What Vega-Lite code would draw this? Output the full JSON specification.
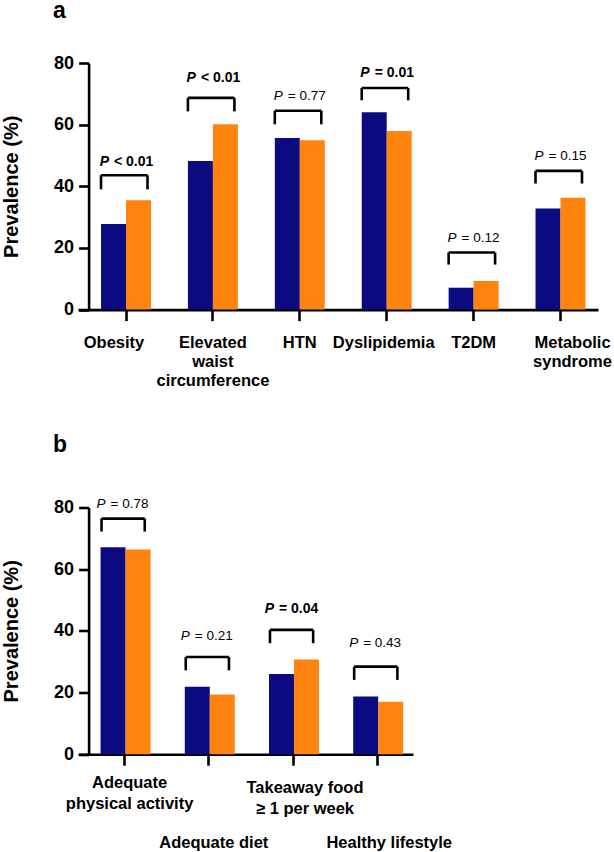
{
  "$schema": "https://vega.github.io/schema/vega-lite/v6.json",
  "padding": {"left": 1, "top": 0, "right": 4, "bottom": 0},
  "spacing": 43.5,
  "config": {
    "view": {"stroke": null},
    "font": "Liberation Sans",
    "axis": {"domainColor": "black", "tickColor": "black", "labelColor": "black", "titleColor": "black", "grid": false, "domainWidth": 2.6, "tickWidth": 2.6}
  },
  "vconcat": [
    {
      "title": {"text": "a", "anchor": "start", "frame": "group", "dx": -25, "offset": 31, "fontSize": 23, "fontWeight": "bold", "color": "black"},
      "width": 520,
      "height": 246.6,
      "layer": [
        {
          "data": {"values": [
            {"cat": "Obesity", "group": "Group 1", "value": 27.8},
            {"cat": "Obesity", "group": "Group 2", "value": 35.5},
            {"cat": "Elevated waist circumference", "group": "Group 1", "value": 48.2},
            {"cat": "Elevated waist circumference", "group": "Group 2", "value": 60.1},
            {"cat": "HTN", "group": "Group 1", "value": 55.7},
            {"cat": "HTN", "group": "Group 2", "value": 54.9},
            {"cat": "Dyslipidemia", "group": "Group 1", "value": 64.0},
            {"cat": "Dyslipidemia", "group": "Group 2", "value": 57.9},
            {"cat": "T2DM", "group": "Group 1", "value": 7.1},
            {"cat": "T2DM", "group": "Group 2", "value": 9.3},
            {"cat": "Metabolic syndrome", "group": "Group 1", "value": 32.8},
            {"cat": "Metabolic syndrome", "group": "Group 2", "value": 36.3}
          ]},
          "mark": {"type": "bar"},
          "encoding": {
            "x": {"field": "cat", "type": "nominal", "sort": null, "title": null,
              "scale": {"paddingInner": 0.425, "paddingOuter": 0.2045, "align": 0.648},
              "axis": {"labelAngle": 0, "tickSize": 11, "labelFontSize": 16.5, "labelFontWeight": "bold", "labelPadding": 14, "labelLineHeight": 19.2, "labelOverlap": false, "labelBound": false, "labelFlush": false,
                "labelOffset": {"condition": [{"test": "datum.value == 'Obesity'", "value": -12}, {"test": "datum.value == 'Metabolic syndrome'", "value": 12}, {"test": "datum.value == 'Dyslipidemia'", "value": -3}], "value": 0},
                "labelExpr": "datum.value == 'Elevated waist circumference' ? ['Elevated', 'waist', 'circumference'] : datum.value == 'Metabolic syndrome' ? ['Metabolic', 'syndrome'] : datum.value"}},
            "xOffset": {"field": "group", "type": "nominal", "scale": {"paddingInner": 0, "paddingOuter": 0}},
            "y": {"field": "value", "type": "quantitative", "title": "Prevalence (%)", "scale": {"domain": [0, 80], "nice": false},
              "axis": {"values": [0, 20, 40, 60, 80], "offset": -10.6, "tickSize": 10, "labelFontSize": 18, "labelFontWeight": "bold", "labelPadding": 5, "titleFontSize": 20, "titleFontWeight": "bold", "titlePadding": 32}},
            "color": {"field": "group", "type": "nominal", "legend": null, "scale": {"domain": ["Group 1", "Group 2"], "range": ["#0C0A80", "#FF830F"]}}
          }
        },
        {
          "data": {"name": "bracketsA", "values": [
            {"cat": "Obesity", "top": 43.6, "leg": 39.0, "ty": 47.9, "rest": "< 0.01", "sig": true},
            {"cat": "Elevated waist circumference", "top": 68.7, "leg": 64.3, "ty": 75.0, "rest": "< 0.01", "sig": true},
            {"cat": "HTN", "top": 64.5, "leg": 60.1, "ty": 69.3, "rest": "= 0.77", "sig": false},
            {"cat": "Dyslipidemia", "top": 71.9, "leg": 67.9, "ty": 76.9, "rest": "= 0.01", "sig": true},
            {"cat": "T2DM", "top": 18.5, "leg": 14.6, "ty": 23.2, "rest": "= 0.12", "sig": false},
            {"cat": "Metabolic syndrome", "top": 45.0, "leg": 40.9, "ty": 49.7, "rest": "= 0.15", "sig": false}
          ]},
          "layer": [
            {
              "mark": {"type": "rule", "color": "black", "strokeWidth": 2.6},
              "encoding": {
                "x": {"field": "cat", "type": "nominal", "sort": null, "bandPosition": 0.0},
                "x2": {"field": "cat", "bandPosition": 0.93},
                "y": {"field": "top", "type": "quantitative", "title": "Prevalence (%)"}
              }
            },
            {
              "mark": {"type": "rule", "color": "black", "strokeWidth": 2.6},
              "encoding": {
                "x": {"field": "cat", "type": "nominal", "sort": null, "bandPosition": 0.0},
                "y": {"field": "top", "type": "quantitative", "title": "Prevalence (%)"},
                "y2": {"field": "leg"}
              }
            },
            {
              "mark": {"type": "rule", "color": "black", "strokeWidth": 2.6},
              "encoding": {
                "x": {"field": "cat", "type": "nominal", "sort": null, "bandPosition": 0.93},
                "y": {"field": "top", "type": "quantitative", "title": "Prevalence (%)"},
                "y2": {"field": "leg"}
              }
            },
            {
              "mark": {"type": "text", "align": "right", "baseline": "middle", "dx": -17, "fontSize": {"expr": "datum.sig ? 14 : 13.5"}, "fontStyle": "italic", "color": "black", "fontWeight": {"expr": "datum.sig ? 'bold' : 'normal'"}},
              "encoding": {
                "x": {"field": "cat", "type": "nominal", "sort": null},
                "y": {"field": "ty", "type": "quantitative", "title": "Prevalence (%)"},
                "text": {"value": "P"}
              }
            },
            {
              "mark": {"type": "text", "align": "left", "baseline": "middle", "dx": -12, "fontSize": {"expr": "datum.sig ? 14 : 13.5"}, "color": "black", "fontWeight": {"expr": "datum.sig ? 'bold' : 'normal'"}},
              "encoding": {
                "x": {"field": "cat", "type": "nominal", "sort": null},
                "y": {"field": "ty", "type": "quantitative", "title": "Prevalence (%)"},
                "text": {"field": "rest"}
              }
            }
          ]
        }
      ]
    },
    {
      "title": {"text": "b", "anchor": "start", "frame": "group", "dx": -25, "offset": 40, "fontSize": 23, "fontWeight": "bold", "color": "black"},
      "width": 335,
      "height": 246.7,
      "layer": [
        {
          "data": {"values": [
            {"cat": "Adequate physical activity", "group": "Group 1", "value": 67.1},
            {"cat": "Adequate physical activity", "group": "Group 2", "value": 66.4},
            {"cat": "Adequate diet", "group": "Group 1", "value": 21.9},
            {"cat": "Adequate diet", "group": "Group 2", "value": 19.4},
            {"cat": "Takeaway food ≥ 1 per week", "group": "Group 1", "value": 26.0},
            {"cat": "Takeaway food ≥ 1 per week", "group": "Group 2", "value": 30.7},
            {"cat": "Healthy lifestyle", "group": "Group 1", "value": 18.7},
            {"cat": "Healthy lifestyle", "group": "Group 2", "value": 17.0}
          ]},
          "mark": {"type": "bar"},
          "encoding": {
            "x": {"field": "cat", "type": "nominal", "sort": null, "title": null,
              "scale": {"paddingInner": 0.43, "paddingOuter": 0.204, "align": 0.657},
              "axis": {"labelAngle": 0, "tickSize": 11, "labelFontSize": 16.5, "labelFontWeight": "bold", "labelLineHeight": 21, "labelOverlap": false, "labelBound": false, "labelFlush": false,
                "labelPadding": {"condition": [{"test": "datum.value == 'Adequate diet' || datum.value == 'Healthy lifestyle'", "value": 69}, {"test": "datum.value == 'Takeaway food ≥ 1 per week'", "value": 14}], "value": 9},
                "labelOffset": {"condition": [{"test": "datum.value == 'Takeaway food ≥ 1 per week' || datum.value == 'Healthy lifestyle'", "value": 12}], "value": 5},
                "labelExpr": "datum.value == 'Adequate physical activity' ? ['Adequate', 'physical activity'] : datum.value == 'Takeaway food ≥ 1 per week' ? ['Takeaway food', '≥ 1 per week'] : datum.value"}},
            "xOffset": {"field": "group", "type": "nominal", "scale": {"paddingInner": 0, "paddingOuter": 0}},
            "y": {"field": "value", "type": "quantitative", "title": "Prevalence (%)", "scale": {"domain": [0, 80], "nice": false},
              "axis": {"values": [0, 20, 40, 60, 80], "offset": -10.6, "tickSize": 10, "labelFontSize": 18, "labelFontWeight": "bold", "labelPadding": 5, "titleFontSize": 20, "titleFontWeight": "bold", "titlePadding": 32}},
            "color": {"field": "group", "type": "nominal", "legend": null, "scale": {"domain": ["Group 1", "Group 2"], "range": ["#0C0A80", "#FF830F"]}}
          }
        },
        {
          "data": {"name": "bracketsB", "values": [
            {"cat": "Adequate physical activity", "top": 76.4, "leg": 72.2, "ty": 81.1, "rest": "= 0.78", "sig": false},
            {"cat": "Adequate diet", "top": 31.5, "leg": 27.2, "ty": 38.4, "rest": "= 0.21", "sig": false},
            {"cat": "Takeaway food ≥ 1 per week", "top": 40.3, "leg": 36.0, "ty": 47.2, "rest": "= 0.04", "sig": true},
            {"cat": "Healthy lifestyle", "top": 28.4, "leg": 24.1, "ty": 36.0, "rest": "= 0.43", "sig": false}
          ]},
          "layer": [
            {
              "mark": {"type": "rule", "color": "black", "strokeWidth": 2.6},
              "encoding": {
                "x": {"field": "cat", "type": "nominal", "sort": null, "bandPosition": 0.02},
                "x2": {"field": "cat", "bandPosition": 0.92},
                "y": {"field": "top", "type": "quantitative", "title": "Prevalence (%)"}
              }
            },
            {
              "mark": {"type": "rule", "color": "black", "strokeWidth": 2.6},
              "encoding": {
                "x": {"field": "cat", "type": "nominal", "sort": null, "bandPosition": 0.02},
                "y": {"field": "top", "type": "quantitative", "title": "Prevalence (%)"},
                "y2": {"field": "leg"}
              }
            },
            {
              "mark": {"type": "rule", "color": "black", "strokeWidth": 2.6},
              "encoding": {
                "x": {"field": "cat", "type": "nominal", "sort": null, "bandPosition": 0.92},
                "y": {"field": "top", "type": "quantitative", "title": "Prevalence (%)"},
                "y2": {"field": "leg"}
              }
            },
            {
              "mark": {"type": "text", "align": "right", "baseline": "middle", "dx": -19, "fontSize": {"expr": "datum.sig ? 14 : 13.5"}, "fontStyle": "italic", "color": "black", "fontWeight": {"expr": "datum.sig ? 'bold' : 'normal'"}},
              "encoding": {
                "x": {"field": "cat", "type": "nominal", "sort": null},
                "y": {"field": "ty", "type": "quantitative", "title": "Prevalence (%)"},
                "text": {"value": "P"}
              }
            },
            {
              "mark": {"type": "text", "align": "left", "baseline": "middle", "dx": -14, "fontSize": {"expr": "datum.sig ? 14 : 13.5"}, "color": "black", "fontWeight": {"expr": "datum.sig ? 'bold' : 'normal'"}},
              "encoding": {
                "x": {"field": "cat", "type": "nominal", "sort": null},
                "y": {"field": "ty", "type": "quantitative", "title": "Prevalence (%)"},
                "text": {"field": "rest"}
              }
            }
          ]
        }
      ]
    }
  ]
}
